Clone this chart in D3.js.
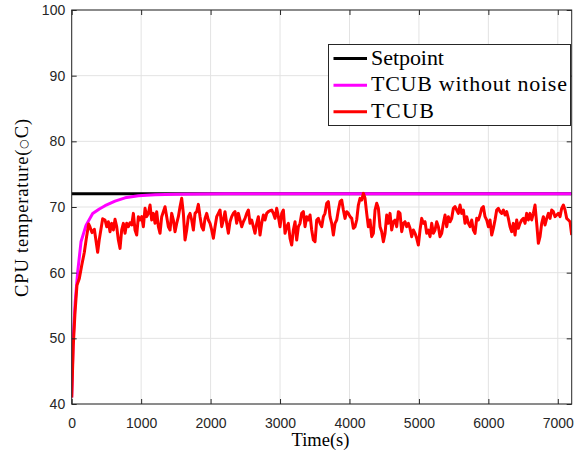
<!DOCTYPE html>
<html>
<head>
<meta charset="utf-8">
<script src="https://cdn.jsdelivr.net/npm/d3@7"></script>
<style>
  html, body { margin: 0; padding: 0; background: #fff; }
  svg { display: block; }
</style>
</head>
<body>
<svg id="chart" width="585" height="456"></svg>
<script>
// ---------------- data ----------------
const xTicks = [0, 1000, 2000, 3000, 4000, 5000, 6000, 7000];
const yTicks = [40, 50, 60, 70, 80, 90, 100];
const legendLabels = ["Setpoint", "TCUB without noise", "TCUB"];

const setpointTime = [0, 7200];
const setpointTemp = [72, 72];

const noNoiseTime = [0, 20, 50, 86, 134, 206, 302, 398, 480, 624, 768, 960, 1200, 1500, 1848, 2200, 7200];
const noNoiseTemp = [41, 49.5, 55.5, 60.1, 64.7, 67.2, 69.0, 69.7, 70.2, 70.9, 71.4, 71.7, 71.86, 71.93, 71.97, 72, 72];

const tcubTime = [
  0, 23, 48, 76, 110, 144, 182, 216, 245, 262, 292, 326, 374, 398, 446,
  480, 504, 528, 552, 576, 600, 624, 648, 672, 696, 720, 744, 768, 792, 816, 840, 864, 888, 912, 936,
  960, 984, 1008, 1032, 1056, 1080, 1104, 1128, 1152, 1176, 1200, 1224, 1248, 1272, 1296, 1320, 1344,
  1368, 1392, 1416, 1440, 1464, 1488, 1512, 1536, 1560, 1584, 1608, 1632, 1656, 1680, 1704, 1728, 1752,
  1776, 1800, 1824, 1848,
  1872, 1896, 1920, 1944, 1968, 1992, 2016, 2040, 2064, 2088, 2112, 2136, 2160, 2184, 2208, 2232, 2256,
  2280, 2304, 2328, 2352, 2376, 2400, 2424, 2448, 2472, 2496, 2520, 2544, 2568, 2592, 2616, 2640, 2664,
  2688, 2712, 2736, 2760, 2784, 2808, 2832, 2856, 2880, 2904, 2928, 2952, 2976, 3000, 3024, 3048, 3072,
  3096, 3120,
  3144, 3168, 3192, 3216, 3240, 3264, 3288, 3312, 3336, 3360, 3384, 3408, 3432, 3456, 3480, 3504, 3528,
  3552, 3576, 3600, 3624, 3648, 3672, 3696, 3720, 3744, 3768, 3792, 3816, 3840, 3864, 3888, 3912, 3936,
  3960, 3984, 4008, 4032, 4056, 4080, 4104, 4128, 4152, 4176, 4200, 4224, 4248, 4272, 4296, 4320, 4344,
  4368, 4392, 4416,
  4440, 4464, 4488, 4512, 4536, 4560, 4584, 4608, 4632, 4656, 4680, 4704, 4728, 4752, 4776, 4800, 4824,
  4848, 4872, 4896, 4920, 4944, 4968, 4992, 5016, 5040, 5064, 5088, 5112, 5136, 5160, 5184, 5208, 5232,
  5256, 5280, 5304, 5328, 5352, 5376, 5400, 5424, 5448, 5472, 5496, 5520, 5544, 5568, 5592, 5616, 5640,
  5664, 5688, 5712,
  5736, 5760, 5784, 5808, 5832, 5856, 5880, 5904, 5928, 5952, 5976, 6000, 6024, 6048, 6072, 6096, 6120,
  6144, 6168, 6192, 6216, 6240, 6264, 6288, 6312, 6336, 6360, 6384, 6408, 6432, 6456, 6480, 6504, 6528,
  6552, 6576, 6600, 6624, 6648, 6672, 6696, 6720, 6744, 6768, 6792, 6816, 6840, 6864, 6888, 6912, 6936,
  6960, 6984, 7008, 7032, 7056, 7080, 7104, 7128, 7152, 7176, 7200
];
const tcubTemp = [
  41.0, 48.9, 54.0, 58.1, 59.1, 61.1, 63.1, 65.6, 67.4, 67.0, 66.1, 66.6, 63.1, 65.1, 68.2,
  68.02, 67.00, 67.76, 66.24, 67.51, 66.50, 68.12, 67.00, 64.97, 63.70, 66.50, 67.51, 65.99, 67.51, 67.00, 67.61, 67.26, 69.03, 66.50, 65.73,
  68.53, 68.02, 68.53, 67.00, 69.80, 68.53, 69.03, 70.30, 68.02, 69.03, 67.51, 69.29, 67.00, 65.99, 68.53, 69.29, 70.05,
  68.53, 67.00, 66.50, 69.03, 68.02, 66.24, 67.51, 68.53, 70.05, 71.32, 69.03, 64.97, 66.50, 68.53, 69.03, 68.02, 66.50,
  69.03, 69.29, 70.40, 68.53,
  67.00, 66.50, 68.27, 69.03, 68.02, 67.51, 66.50, 65.23, 67.00, 68.53, 69.03, 69.54, 67.00, 68.02, 69.29, 67.51, 65.99,
  67.76, 68.53, 69.03, 69.29, 67.51, 69.03, 68.02, 67.00, 67.76, 68.27, 69.03, 69.54, 67.51, 68.02, 67.00, 65.99, 67.51,
  68.53, 65.73, 67.51, 68.78, 68.02, 69.03, 69.29, 69.44, 69.54, 69.03, 68.27, 69.80, 68.53, 67.00, 69.03, 69.54, 65.99,
  67.00, 67.51,
  65.23, 64.21, 66.50, 67.76, 64.97, 67.00, 67.51, 69.03, 69.29, 67.00, 68.53, 68.02, 68.78, 66.50, 64.97, 64.72, 68.02,
  68.27, 67.51, 67.00, 68.53, 69.03, 70.56, 70.81, 68.53, 67.51, 65.73, 67.51, 68.02, 69.54, 70.81, 71.06, 69.54, 68.27,
  69.29, 69.03, 68.53, 68.27, 66.75, 67.00, 68.02, 70.30, 71.32, 71.06, 72.08, 71.32, 69.03, 67.00, 68.02, 65.48, 65.99,
  69.54, 70.56, 69.80,
  67.00, 66.24, 64.72, 65.99, 68.78, 67.51, 69.03, 66.50, 67.76, 68.02, 67.00, 69.29, 69.03, 66.24, 67.51, 67.76, 67.00,
  67.51, 66.75, 65.48, 66.50, 65.99, 65.23, 64.21, 66.50, 68.27, 67.51, 67.76, 65.99, 66.50, 65.48, 67.51, 65.99, 66.50,
  67.76, 67.00, 65.48, 65.99, 67.51, 68.78, 67.00, 68.53, 67.76, 68.27, 69.80, 70.05, 69.54, 69.03, 70.30, 69.03, 69.54,
  67.51, 68.53, 67.51,
  67.00, 68.02, 66.50, 65.99, 68.27, 68.02, 68.78, 69.80, 70.05, 68.53, 68.02, 67.00, 68.02, 65.73, 66.75, 68.02, 69.54,
  69.80, 69.29, 69.03, 69.54, 68.78, 69.29, 68.27, 67.00, 66.24, 67.51, 65.73, 68.02, 66.75, 67.51, 68.02, 68.27, 67.51,
  69.03, 68.02, 69.03, 68.02, 69.03, 70.30, 67.51, 64.47, 65.48, 67.51, 68.53, 67.26, 68.27, 69.03, 68.27, 69.54, 69.29,
  68.53, 68.78, 69.03, 68.53, 69.80, 70.30, 69.54, 68.27, 68.02, 67.76, 65.73
];

// ---------------- layout ----------------
const svg = d3.select("#chart");
const axisColor = "#262626";
const gridColor = "#e3e3e3";
const sansFont = "'Liberation Sans', Arial, Helvetica, sans-serif";
const serifFont = "'Liberation Serif', 'Times New Roman', serif";

const x = d3.scaleLinear().domain([0, 7200]).range([71.7, 571.7]);
const y = d3.scaleLinear().domain([40, 100]).range([404, 10]);
const [x0, x1] = x.range();
const [yb, yt] = y.range();

svg.append("rect").attr("width", 585).attr("height", 456).attr("fill", "#fff");

// grid
const grid = svg.append("g");
grid.selectAll("line.gx").data(xTicks).join("line")
  .attr("x1", d => x(d)).attr("x2", d => x(d))
  .attr("y1", yt).attr("y2", yb)
  .attr("stroke", gridColor).attr("stroke-width", 1);
grid.selectAll("line.gy").data(yTicks).join("line")
  .attr("x1", x0).attr("x2", x1)
  .attr("y1", d => y(d)).attr("y2", d => y(d))
  .attr("stroke", gridColor).attr("stroke-width", 1);

// clip
svg.append("clipPath").attr("id", "plotclip").append("rect")
  .attr("x", x0).attr("y", yt).attr("width", x1 - x0).attr("height", yb - yt);

const lineGen = d3.line().x(d => x(d[0])).y(d => y(d[1]));
const plot = svg.append("g").attr("clip-path", "url(#plotclip)");

const series = [
  { time: setpointTime, temp: setpointTemp, color: "#000000" },
  { time: noNoiseTime, temp: noNoiseTemp, color: "#ff00ff" },
  { time: tcubTime, temp: tcubTemp, color: "#ff0000" }
];
series.forEach(s => {
  plot.append("path")
    .datum(s.time.map((t, i) => [t, s.temp[i]]))
    .attr("d", lineGen)
    .attr("fill", "none")
    .attr("stroke", s.color)
    .attr("stroke-width", 3)
    .attr("stroke-linejoin", "round");
});

// axes
function styleAxis(g) {
  g.select(".domain").remove();
  g.selectAll(".tick line").attr("stroke", axisColor);
  g.selectAll(".tick text").attr("fill", axisColor)
    .attr("font-family", sansFont).attr("font-size", 14);
}
svg.append("g").attr("transform", `translate(0,${yb})`)
  .call(d3.axisBottom(x).tickValues(xTicks).tickSizeInner(-5).tickSizeOuter(0).tickPadding(14).tickFormat(d3.format("d")))
  .call(styleAxis);
svg.append("g").attr("transform", `translate(0,${yt})`)
  .call(d3.axisTop(x).tickValues(xTicks).tickSizeInner(-5).tickSizeOuter(0).tickFormat(""))
  .call(styleAxis);
svg.append("g").attr("transform", `translate(${x0},0)`)
  .call(d3.axisLeft(y).tickValues(yTicks).tickSizeInner(-5).tickSizeOuter(0).tickPadding(6.5).tickFormat(d3.format("d")))
  .call(styleAxis);
svg.append("g").attr("transform", `translate(${x1},0)`)
  .call(d3.axisRight(y).tickValues(yTicks).tickSizeInner(-5).tickSizeOuter(0).tickFormat(""))
  .call(styleAxis);

svg.append("rect")
  .attr("x", x0).attr("y", yt).attr("width", x1 - x0).attr("height", yb - yt)
  .attr("fill", "none").attr("stroke", axisColor).attr("stroke-width", 1);

// helper: fit text width by letter spacing
function fitWidth(sel, target) {
  const node = sel.node();
  const w = node.getComputedTextLength();
  const n = sel.text().length;
  if (n > 1) sel.attr("letter-spacing", ((target - w) / (n - 1)).toFixed(2));
}

// axis labels
const xl = svg.append("text").attr("x", 320.5).attr("y", 446)
  .attr("text-anchor", "middle").attr("font-family", serifFont).attr("font-size", 18.5)
  .attr("fill", "#000").text("Time(s)");
fitWidth(xl, 58);

const yl = svg.append("text")
  .attr("transform", "translate(28,207.5) rotate(-90)")
  .attr("text-anchor", "middle").attr("font-family", serifFont).attr("font-size", 18.5)
  .attr("fill", "#000");
yl.append("tspan").text("CPU temperature(");
yl.append("tspan").attr("font-family", "'DejaVu Sans', sans-serif").attr("font-size", 11).attr("dy", -1).text("\u25CB");
yl.append("tspan").attr("dy", 1).text("C)");
{
  const w = yl.node().getComputedTextLength();
  const n = yl.text().length;
  yl.attr("letter-spacing", ((178 - w) / (n - 1)).toFixed(2));
}

// legend
const legend = svg.append("g");
legend.append("rect")
  .attr("x", 328.5).attr("y", 44.5).attr("width", 242).attr("height", 81)
  .attr("fill", "#fff").attr("stroke", axisColor).attr("stroke-width", 1);
const legendColors = series.map(s => s.color);
const legendTargets = [73, 196, 63];
legendLabels.forEach((lab, i) => {
  const cy = 58.6 + i * 26.6;
  legend.append("line")
    .attr("x1", 333.5).attr("x2", 367).attr("y1", cy).attr("y2", cy)
    .attr("stroke", legendColors[i]).attr("stroke-width", 3);
  const t = legend.append("text")
    .attr("x", 371).attr("y", cy + 6)
    .attr("font-family", serifFont).attr("font-size", 22)
    .attr("fill", "#000").text(lab);
  fitWidth(t, legendTargets[i]);
});
</script>
</body>
</html>
